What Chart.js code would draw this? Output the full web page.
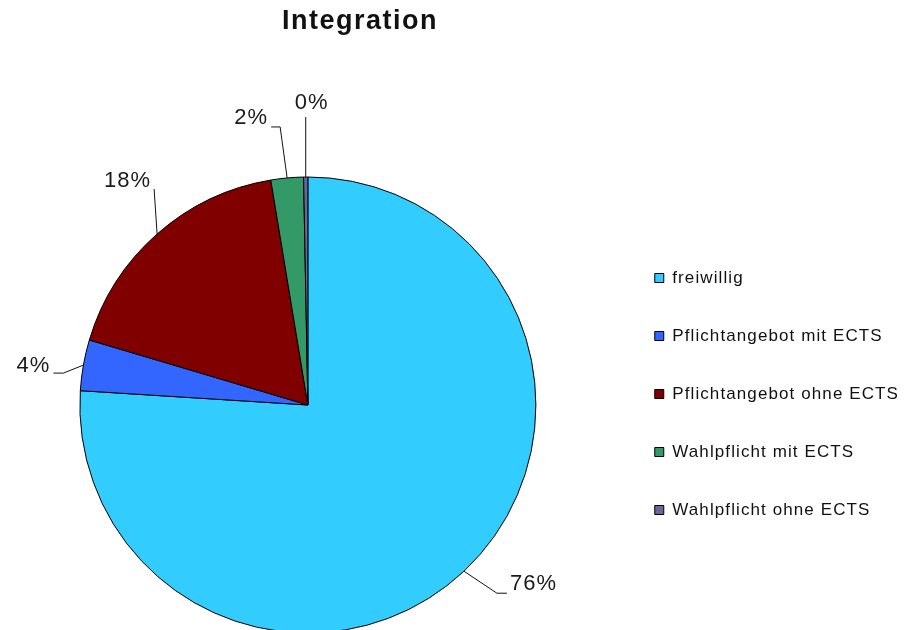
<!DOCTYPE html>
<html>
<head>
<meta charset="utf-8">
<script src="https://cdn.jsdelivr.net/npm/chart.js@4.4.0/dist/chart.umd.min.js"></script>
<style>
  html, body { margin: 0; padding: 0; background: #fff; overflow: hidden; }
  #wrap { width: 914px; height: 630px; }
</style>
</head>
<body>
<div id="wrap"><canvas id="myChart"></canvas></div>
<script>
let categories = ['freiwillig', 'Pflichtangebot mit ECTS', 'Pflichtangebot ohne ECTS', 'Wahlpflicht mit ECTS', 'Wahlpflicht ohne ECTS'];
let shares = [76.0, 3.6, 17.8, 2.3, 0.3];
let colors = ['#33CCFF', '#3366FF', '#800000', '#339966', '#666699'];
let chartTitle = 'Integration';

// leader lines: elbow offset from the slice edge, horizontal tail, where the text sits
let leaders = [
    {dx: 33, dy: 22, tail: 10, align: 'left', tx: 3, ty: -9},
    {dx: -20, dy: 8, tail: -10, align: 'right', tx: -3, ty: -7},
    {dx: -3, dy: -45, tail: 0, align: 'right', tx: -3, ty: -8},
    {dx: -7, dy: -51, tail: -9, align: 'right', tx: -3, ty: -9},
    {dx: 0, dy: -60, tail: 0, align: 'center', tx: 6, ty: -14},
];

let spacing = {
    id: 'spacing',
    beforeLayout(chart) { chart.ctx.letterSpacing = '1.1px'; },
    beforeDraw(chart) { chart.ctx.letterSpacing = '1.1px'; },
    afterLayout(chart) {
        chart.legend.top -= 11;
        chart.legend.bottom -= 11;
    }
};

let pieLabels = {
    id: 'pieLabels',
    afterDatasetsDraw(chart) {
        let ctx = chart.ctx;
        let arcs = chart.getDatasetMeta(0).data;
        let total = shares.reduce((a, b) => a + b, 0);
        ctx.save();
        ctx.letterSpacing = '1px';
        ctx.strokeStyle = '#111';
        ctx.lineWidth = 1;
        ctx.fillStyle = '#1a1a1a';
        ctx.font = '22px "Liberation Sans", Arial, sans-serif';
        ctx.textBaseline = 'middle';
        arcs.forEach((arc, i) => {
            let p = arc.getProps(['x', 'y', 'startAngle', 'endAngle', 'outerRadius'], true);
            let mid = (p.startAngle + p.endAngle) / 2;
            let ex = p.x + Math.cos(mid) * p.outerRadius;
            let ey = p.y + Math.sin(mid) * p.outerRadius;
            let l = leaders[i];
            let bx = ex + l.dx, by = ey + l.dy;
            let tx = bx + l.tail;
            ctx.beginPath();
            ctx.moveTo(ex, ey);
            ctx.lineTo(bx, by);
            ctx.lineTo(tx, by);
            ctx.stroke();
            ctx.textAlign = l.align;
            ctx.fillText(Math.round(shares[i] / total * 100) + '%', tx + l.tx, by + l.ty);
        });
        ctx.restore();
    },
    afterDraw(chart) {
        let ctx = chart.ctx;
        ctx.save();
        ctx.letterSpacing = '1.5px';
        ctx.fillStyle = '#111';
        ctx.font = 'bold 27px "Liberation Sans", Arial, sans-serif';
        ctx.textAlign = 'center';
        ctx.textBaseline = 'middle';
        ctx.fillText(chartTitle, 360, 22);
        ctx.restore();
    }
};

let pie = new Chart(document.getElementById('myChart').getContext('2d'), {
    type: 'pie',
    data: {
        labels: categories,
        datasets: [{
            data: shares,
            backgroundColor: colors,
            borderColor: '#000',
            borderWidth: 1,
        }]
    },
    options: {
        responsive: true,
        maintainAspectRatio: false,
        animation: false,
        radius: 228,
        layout: {padding: {top: 180, left: 2, right: 5, bottom: 0}},
        plugins: {
            tooltip: {enabled: false},
            title: {display: false},
            legend: {
                position: 'right',
                labels: {
                    boxWidth: 9,
                    boxHeight: 9,
                    padding: 41,
                    color: '#111',
                    font: {family: '"Liberation Sans", Arial, sans-serif', size: 17}
                }
            }
        }
    },
    plugins: [spacing, pieLabels]
});
</script>
</body>
</html>
